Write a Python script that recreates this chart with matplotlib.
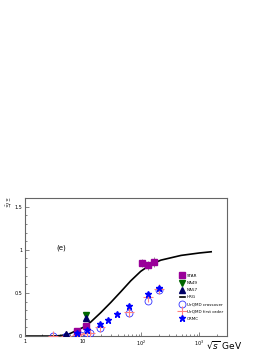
import matplotlib.pyplot as plt
import matplotlib.ticker as mticker
import numpy as np

# HRG curve
hrg_x = [1, 3, 4, 5, 6, 8, 10, 13.4, 20, 30, 44, 66, 98, 146, 218, 486, 1000, 1600]
hrg_y = [0, 0, 0.005, 0.015, 0.03, 0.07, 0.1, 0.16, 0.27, 0.39, 0.51, 0.64, 0.75, 0.83, 0.88, 0.935, 0.963, 0.977]

star_x = [7.8, 11.4, 102, 133, 168]
star_y = [0.06, 0.115, 0.845, 0.82, 0.855]
star_err = [0.02, 0.02, 0.05, 0.05, 0.06]

na49_x = [11.0]
na49_y = [0.245]
na57_x = [5.1, 11.0]
na57_y = [0.02, 0.215]

urqmd_x = [3.0, 5.0, 7.7, 8.8, 11.5, 13, 19.6, 62.4, 130, 200]
cross_y = [0.0, 0.0, 0.01, 0.01, 0.03, 0.03, 0.09, 0.27, 0.41, 0.53]
first_y = [0.0, 0.0, 0.01, 0.02, 0.04, 0.04, 0.1, 0.28, 0.45, 0.55]

crmc_x = [7.9, 11.9, 19.5, 27, 39, 62.4, 133, 200]
crmc_y = [0.04, 0.07, 0.14, 0.19, 0.26, 0.35, 0.49, 0.56]

fig = plt.figure(figsize=(2.73, 3.53), dpi=100)
ax = fig.add_axes([0.0916, 0.048, 0.74, 0.391])

ax.plot(hrg_x, hrg_y, color='black', lw=1.2, label='HRG', zorder=2)
ax.errorbar(star_x, star_y, yerr=star_err, fmt='s', color='#990099', ms=5,
            ecolor='gray', elinewidth=0.6, capsize=0, label='STAR', zorder=4)
ax.plot(na49_x, na49_y, 'v', color='#006600', ms=4.5, label='NA49', zorder=4)
ax.plot(na57_x, na57_y, '^', color='#000066', ms=4.5, label='NA57', zorder=5)
ax.plot(urqmd_x, cross_y, 'o', mfc='none', mec='#3333ff', mew=0.6, ms=5,
        label='UrQMD crossover', zorder=3)
ax.plot(urqmd_x, first_y, '+', color='#ff8080', mew=0.8, ms=7,
        label='UrQMD first order', zorder=3)
ax.plot(crmc_x, crmc_y, '*', color='#0000ff', ms=5, label='CRMC', zorder=5)

ax.set_xscale('log')
ax.set_xlim(1, 3000)
ax.set_ylim(0, 1.6)

def fmt(v, pos):
    if abs(v - 1) < 1e-9:
        return '1'
    if abs(v - 10) < 1e-9:
        return '10'
    return '$10^{%d}$' % round(np.log10(v))

ax.xaxis.set_major_locator(mticker.FixedLocator([1, 10, 100, 1000]))
ax.xaxis.set_major_formatter(mticker.FuncFormatter(fmt))
ax.xaxis.set_minor_locator(mticker.LogLocator(subs=np.arange(2, 10)))
ax.xaxis.set_minor_formatter(mticker.NullFormatter())
ax.yaxis.set_major_locator(mticker.FixedLocator([0, 0.5, 1, 1.5]))
ax.yaxis.set_major_formatter(mticker.FuncFormatter(lambda v, p: '%g' % v))
ax.yaxis.set_minor_locator(mticker.MultipleLocator(0.1))

ax.tick_params(which='both', direction='in', labelsize=3.5, color='#555555', width=0.5, pad=2)
ax.tick_params(which='major', length=3)
ax.tick_params(which='minor', length=1.5)
for s in ax.spines.values():
    s.set_color('#666666')
    s.set_linewidth(0.8)

ax.text(0.155, 0.63, '(e)', transform=ax.transAxes, fontsize=5)
fig.text(0.755, 0.023, r'$\sqrt{s}$ GeV', fontsize=6.5, ha='left', va='center')
fig.text(0.033, 0.427, r'$\bar{\Xi}/\Xi$', fontsize=4.5, rotation=90, ha='center', va='center')

h, l = ax.get_legend_handles_labels()
order = ['STAR', 'NA49', 'NA57', 'HRG', 'UrQMD crossover', 'UrQMD first order', 'CRMC']
hl = [h[l.index(o)] for o in order]
leg = ax.legend(hl, order, loc='upper left', bbox_to_anchor=(0.765, 0.45),
                fontsize=3, frameon=False, handlelength=1.2, handletextpad=0.6,
                labelspacing=0.75, borderaxespad=0, borderpad=0)

fig.savefig('out.png', dpi=100)
